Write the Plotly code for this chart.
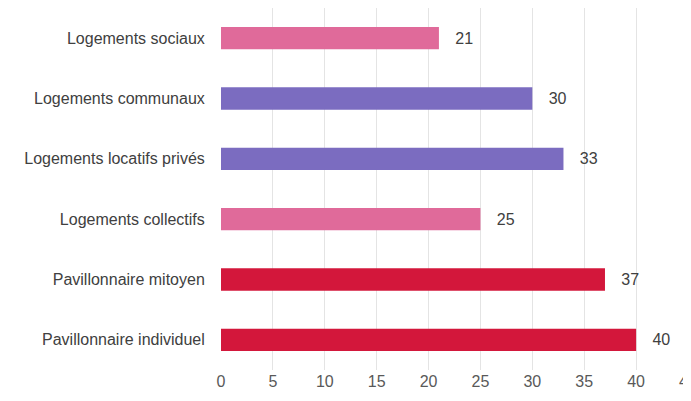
import plotly.graph_objects as go

categories = [
    "Logements sociaux",
    "Logements communaux",
    "Logements locatifs privés",
    "Logements collectifs",
    "Pavillonnaire mitoyen",
    "Pavillonnaire individuel",
]
values = [21, 30, 33, 25, 37, 40]
bar_colors = ["#E06A9A", "#7B6CC0", "#7B6CC0", "#E06A9A", "#D3173B", "#D3173B"]

FONT = "Liberation Sans Narrow, Arial Narrow, sans-serif"

fig = go.Figure(go.Bar(
    x=values,
    y=categories,
    orientation="h",
    marker=dict(color=bar_colors, line=dict(width=0)),
    width=0.37,
    text=[f"   {v}" for v in values],
    textposition="outside",
    textfont=dict(color="#404040", size=16, family=FONT),
    cliponaxis=False,
    showlegend=False,
))

# page body has an 8px margin, so the figure is sized to fit the window
fig.update_layout(
    width=683,
    height=393,
    margin=dict(l=213, r=3, t=0, b=31),
    paper_bgcolor="white",
    plot_bgcolor="white",
    font=dict(family=FONT, color="#595959", size=16),
    xaxis=dict(
        range=[0, 45],
        dtick=5,
        showgrid=True,
        gridcolor="#E4E4E4",
        zeroline=False,
        showline=False,
        ticks="",
        automargin=False,
        ticklabeloverflow="allow",
        tickfont=dict(size=16, color="#595959"),
    ),
    yaxis=dict(
        autorange="reversed",
        showgrid=False,
        ticks="outside",
        ticklen=12,
        tickcolor="white",
        automargin=False,
        tickfont=dict(size=16, color="#404040"),
    ),
    bargap=0.63,
)

fig.write_html("out.html")
